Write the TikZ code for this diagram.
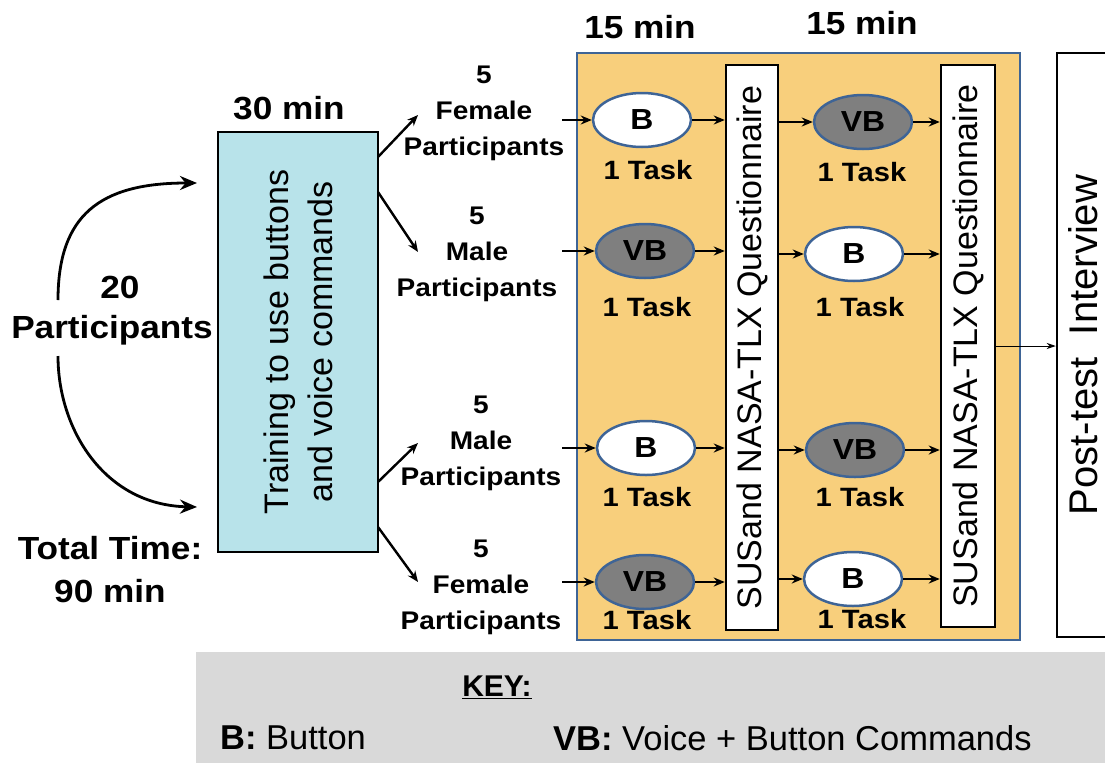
\documentclass[tikz,border=0pt]{standalone}
\usepackage{fontspec}
\setmainfont{Liberation Sans}
\newfontfamily\widefont[FakeStretch=1.1]{Liberation Sans}
\usetikzlibrary{shapes.geometric,arrows.meta}
\definecolor{trainblue}{RGB}{184,227,234}
\definecolor{sessorange}{RGB}{248,207,124}
\definecolor{edgeblue}{RGB}{62,100,150}
\definecolor{vbgray}{RGB}{127,127,127}
\definecolor{keygray}{RGB}{217,217,217}
\tikzset{
  hd/.style={font=\widefont\bfseries\fontsize{32}{43}\selectfont, align=center, inner sep=0pt},
  grp/.style={font=\widefont\bfseries\fontsize{25.5}{36}\selectfont, align=center, inner sep=0pt},
  task/.style={font=\widefont\bfseries\fontsize{26.5}{30}\selectfont, inner sep=0pt},
  cond/.style={ellipse, draw=edgeblue, line width=2.5pt, minimum width=98pt, minimum height=54pt, inner sep=0pt, font=\widefont\bfseries\fontsize{29}{30}\selectfont},
  bcond/.style={cond, fill=white},
  vbcond/.style={cond, fill=vbgray},
  quest/.style={draw, fill=white, line width=2.5pt, rotate=90, inner sep=0pt, font=\fontsize{34}{38}\selectfont},
  flow/.style={->, line width=2.4pt},
  curv/.style={-{Stealth[length=17pt,width=14pt]}, line width=2.8pt},
}
\begin{document}
\begin{tikzpicture}[x=1pt, y=1pt, >={Stealth[length=11pt,width=9pt]}]
            \useasboundingbox (0,0) rectangle (1105,-763);
            % session frame and key
            \node [draw=edgeblue, fill=sessorange, line width=2.5pt, minimum width=443pt, minimum height=587pt, inner sep=0pt] (sess) at (798.5,-346.5) {};
            \node [fill=keygray, minimum width=909pt, minimum height=111pt, inner sep=0pt] (keybox) at (650.5,-707.5) {};
            % left part
            \node [hd] (thirty) at (289,-108) {30 min};
            \node [hd] (twenty) at (120,-287) {20};
            \node [hd] (parts) at (112,-330) {Participants};
            \node [hd] (time) at (110,-570) {Total Time:\\90 min};
            \node [draw, fill=trainblue, line width=2.5pt, rotate=90, minimum width=420pt, minimum height=160pt, inner sep=0pt, align=center, font=\fontsize{34}{44}\selectfont] (train) at (298,-342) {Training to use buttons\\and voice commands};
            \coordinate (up0) at (58,-300);
            \coordinate (up1) at (197,-183);
            \coordinate (dn0) at (58,-356);
            \coordinate (dn1) at (197,-507);
            \draw [curv] (up0) .. controls (58,-215) and (100,-183) .. (up1);
            \draw [curv] (dn0) .. controls (58,-430) and (105,-505) .. (dn1);
            % groups
            \node [grp] (g1) at (484,-113) {5\\Female\\Participants};
            \node [grp] (g2) at (477,-254) {5\\Male\\Participants};
            \node [grp] (g3) at (481,-443) {5\\Male\\Participants};
            \node [grp] (g4) at (481,-587) {5\\Female\\Participants};
            \coordinate (br1a) at (378,-157);
            \coordinate (br1b) at (418,-115);
            \coordinate (br2a) at (378,-192);
            \coordinate (br2b) at (418,-252);
            \coordinate (br3a) at (378,-482);
            \coordinate (br3b) at (418,-443);
            \coordinate (br4a) at (378,-527);
            \coordinate (br4b) at (418,-582);
            \draw [flow] (br1a) -- (br1b);
            \draw [flow] (br2a) -- (br2b);
            \draw [flow] (br3a) -- (br3b);
            \draw [flow] (br4a) -- (br4b);
            % first 15 min
            \node [hd] (fifteenA) at (640,-27) {15 min};
            \node [bcond] (b1) at (642,-120) {B};
            \node [vbcond] (v1) at (645,-251) {VB};
            \node [bcond] (b2) at (646,-448) {B};
            \node [vbcond] (v2) at (645,-582) {VB};
            \node [task] (t1) at (648,-170) {1 Task};
            \node [task] (t2) at (647,-307) {1 Task};
            \node [task] (t3) at (647,-497) {1 Task};
            \node [task] (t4) at (647,-620) {1 Task};
            \coordinate (in1) at (562,-120);
            \coordinate (in2) at (562,-251);
            \coordinate (in3) at (562,-448);
            \coordinate (in4) at (562,-582);
            \draw [flow] (in1) -- (b1);
            \draw [flow] (in2) -- (v1);
            \draw [flow] (in3) -- (b2);
            \draw [flow] (in4) -- (v2);
            \node [quest, minimum width=565pt, minimum height=52pt] (q1) at (752,-347.5) {SUSand NASA-TLX Questionnaire};
            \draw [flow] (b1) -- (b1 -| q1.north);
            \draw [flow] (v1) -- (v1 -| q1.north);
            \draw [flow] (b2) -- (b2 -| q1.north);
            \draw [flow] (v2) -- (v2 -| q1.north);
            % second 15 min
            \node [hd] (fifteenB) at (862,-23) {15 min};
            \node [vbcond] (v3) at (863,-122) {VB};
            \node [bcond] (b3) at (854,-254) {B};
            \node [vbcond] (v4) at (855,-450) {VB};
            \node [bcond] (b4) at (853,-579) {B};
            \node [task] (t5) at (862,-172) {1 Task};
            \node [task] (t6) at (860,-307) {1 Task};
            \node [task] (t7) at (860,-497) {1 Task};
            \node [task] (t8) at (862,-619) {1 Task};
            \draw [flow] (q1.south |- v3) -- (v3);
            \draw [flow] (q1.south |- b3) -- (b3);
            \draw [flow] (q1.south |- v4) -- (v4);
            \draw [flow] (q1.south |- b4) -- (b4);
            \node [quest, minimum width=562pt, minimum height=54pt] (q2) at (968,-346) {SUSand NASA-TLX Questionnaire};
            \draw [flow] (v3) -- (v3 -| q2.north);
            \draw [flow] (b3) -- (b3 -| q2.north);
            \draw [flow] (v4) -- (v4 -| q2.north);
            \draw [flow] (b4) -- (b4 -| q2.north);
            % interview
            \node [quest, minimum width=584pt, minimum height=52pt, font=\fontsize{40}{44}\selectfont] (post) at (1083,-345) {Post-test~ Interview};
            \draw [-{Stealth[length=9pt,width=6pt]}, line width=1pt] (q2.south) -- (q2.south -| post.north);
            % key
            \node [font=\bfseries\fontsize{30}{34}\selectfont] (keyhd) at (497,-687) {\underline{KEY:}};
            \node [anchor=west, inner sep=0pt, font=\fontsize{34.5}{38}\selectfont] (keyb) at (220,-738) {\textbf{B:} Button};
            \node [anchor=west, inner sep=0pt, font=\fontsize{34.5}{38}\selectfont] (keyvb) at (553,-738) {\textbf{VB:} Voice + Button Commands};
        \end{tikzpicture}
\end{document}
